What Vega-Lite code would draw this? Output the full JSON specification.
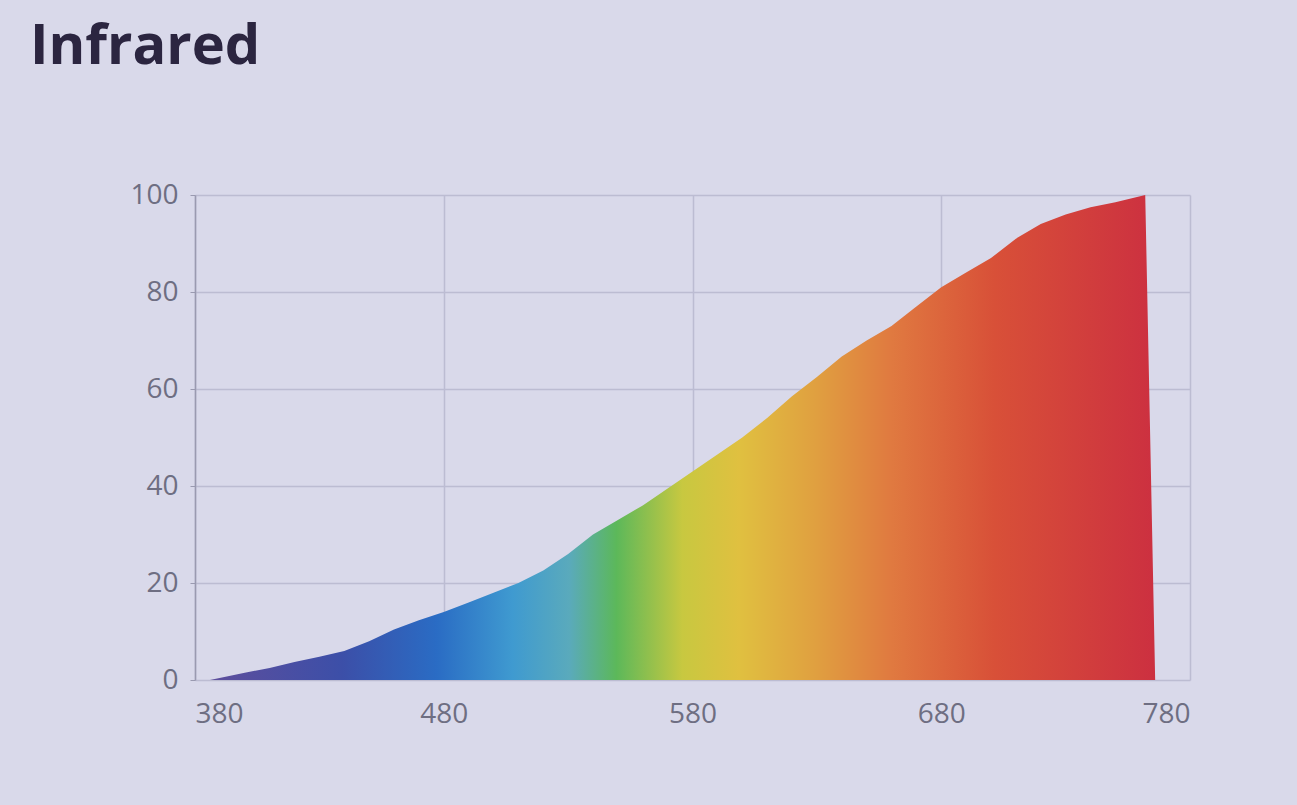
{
  "$schema": "https://vega.github.io/schema/vega-lite/v6.json",
  "autosize": "none",
  "width": 995,
  "height": 485,
  "padding": {"left": 195, "top": 195, "right": 107, "bottom": 125},
  "background": "#d9d9ea",
  "title": {"text": "Infrared", "anchor": "start", "fontSize": 56, "fontWeight": "bold", "color": "#2b2540", "font": "Open Sans", "offset": 105, "dx": -100},
  "data": {"values": [
    {"nm": 386, "v": 0},
    {"nm": 400, "v": 1.5},
    {"nm": 410, "v": 2.5},
    {"nm": 420, "v": 3.7},
    {"nm": 430, "v": 4.8},
    {"nm": 440, "v": 6},
    {"nm": 450, "v": 8},
    {"nm": 460, "v": 10.4},
    {"nm": 470, "v": 12.3},
    {"nm": 480, "v": 14},
    {"nm": 490, "v": 16},
    {"nm": 500, "v": 18},
    {"nm": 510, "v": 20},
    {"nm": 520, "v": 22.6},
    {"nm": 530, "v": 26},
    {"nm": 540, "v": 30},
    {"nm": 550, "v": 33},
    {"nm": 560, "v": 36},
    {"nm": 570, "v": 39.5},
    {"nm": 580, "v": 43},
    {"nm": 590, "v": 46.5},
    {"nm": 600, "v": 50},
    {"nm": 610, "v": 54},
    {"nm": 620, "v": 58.5},
    {"nm": 630, "v": 62.5},
    {"nm": 640, "v": 66.7},
    {"nm": 650, "v": 70},
    {"nm": 660, "v": 73},
    {"nm": 670, "v": 77},
    {"nm": 680, "v": 81},
    {"nm": 690, "v": 84},
    {"nm": 700, "v": 87},
    {"nm": 710, "v": 91},
    {"nm": 720, "v": 94},
    {"nm": 730, "v": 96},
    {"nm": 740, "v": 97.5},
    {"nm": 750, "v": 98.5},
    {"nm": 762, "v": 100},
    {"nm": 766, "v": 0}
  ]},
  "mark": {
    "type": "area",
    "interpolate": "linear",
    "color": {
      "gradient": "linear",
      "x1": 0, "x2": 1, "y1": 0, "y2": 0,
      "stops": [
        {"offset": 0, "color": "#5e4e9c"},
        {"offset": 0.14, "color": "#3c4fa8"},
        {"offset": 0.24, "color": "#2a6cc4"},
        {"offset": 0.32, "color": "#3f9ad0"},
        {"offset": 0.38, "color": "#5aaabc"},
        {"offset": 0.43, "color": "#5cb85a"},
        {"offset": 0.5, "color": "#c8c840"},
        {"offset": 0.56, "color": "#e0c040"},
        {"offset": 0.64, "color": "#e0a040"},
        {"offset": 0.72, "color": "#e07a40"},
        {"offset": 0.83, "color": "#d85038"},
        {"offset": 1, "color": "#cc3040"}
      ]
    }
  },
  "encoding": {
    "x": {
      "field": "nm", "type": "quantitative",
      "scale": {"domain": [380, 780], "nice": false, "zero": false},
      "axis": {"values": [380, 480, 580, 680, 780], "title": null, "labelFontSize": 28, "labelColor": "#6e6e82", "labelFont": "Open Sans", "labelPadding": 20, "domain": false, "ticks": false, "gridColor": "#bcbcd2", "gridWidth": 1.5}
    },
    "y": {
      "field": "v", "type": "quantitative",
      "scale": {"domain": [0, 100], "nice": false},
      "axis": {"values": [0, 20, 40, 60, 80, 100], "title": null, "labelFontSize": 28, "labelColor": "#6e6e82", "labelFont": "Open Sans", "labelPadding": 12, "domainColor": "#9a9ab0", "domainWidth": 1.5, "tickColor": "#9a9ab0", "tickSize": 5, "gridColor": "#bcbcd2", "gridWidth": 1.5}
    }
  },
  "config": {"view": {"stroke": null}}
}
